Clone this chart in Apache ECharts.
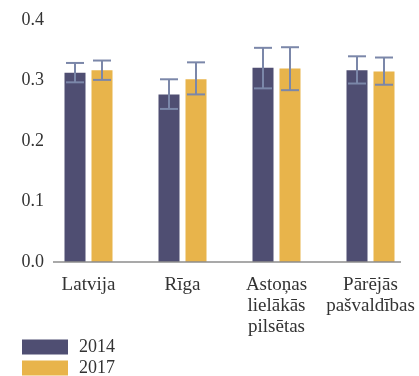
<!DOCTYPE html>
<html>
<head>
<meta charset="utf-8">
<script src="https://cdn.jsdelivr.net/npm/echarts@6/dist/echarts.min.js"></script>
<style>
  html, body { margin: 0; padding: 0; background: #fff; }
  #chart { width: 419px; height: 376px; }
</style>
</head>
<body>
<div id="chart"></div>
<script>
// Region labels (multi-line where the name wraps)
const categories = ['Latvija', 'Rīga', 'Astoņas\nlielākās\npilsētas', 'Pārējās\npašvaldības'];
const yearNames = ['2014', '2017'];

// Index values per region
const values2014 = [0.313, 0.277, 0.321, 0.317];
const values2017 = [0.317, 0.302, 0.320, 0.315];

// Confidence interval bounds
const low2014  = [0.297, 0.253, 0.287, 0.295];
const high2014 = [0.329, 0.302, 0.354, 0.340];
const low2017  = [0.301, 0.277, 0.284, 0.293];
const high2017 = [0.333, 0.330, 0.355, 0.338];

// Y axis ticks
const yTicks = [0.0, 0.1, 0.2, 0.3, 0.4];

const COLOR_2014 = '#4f4e72';
const COLOR_2017 = '#e8b44b';
const ERR_COLOR = '#7b87a9';
const FONT = 'Liberation Serif';
const BAR_W = 21;
const BAR_GAP = 6;
const CAP_W = 18;

function errorData(lo, hi) {
  return lo.map((l, i) => [i, l, hi[i]]);
}

function errorRenderer(side) {
  return function (params, api) {
    const shift = side * (BAR_W + BAR_GAP) / 2;
    const pLo = api.coord([api.value(0), api.value(1)]);
    const pHi = api.coord([api.value(0), api.value(2)]);
    const x = pLo[0] + shift;
    const style = { stroke: ERR_COLOR, lineWidth: 2 };
    return {
      type: 'group',
      children: [
        { type: 'line', shape: { x1: x, y1: pLo[1], x2: x, y2: pHi[1] }, style },
        { type: 'line', shape: { x1: x - CAP_W / 2, y1: pLo[1], x2: x + CAP_W / 2, y2: pLo[1] }, style },
        { type: 'line', shape: { x1: x - CAP_W / 2, y1: pHi[1], x2: x + CAP_W / 2, y2: pHi[1] }, style }
      ]
    };
  };
}

// One legend block per year, stacked vertically
function legendFor(name, top) {
  return {
    data: [name],
    left: 22,
    top: top,
    padding: 0,
    icon: 'rect',
    itemWidth: 46,
    itemHeight: 15,
    selectedMode: false,
    textStyle: { fontFamily: FONT, fontSize: 18, color: '#333', padding: [0, 0, 0, 6] }
  };
}

const chart = echarts.init(document.getElementById('chart'), null, { renderer: 'canvas' });

const option = {
  animation: false,
  backgroundColor: '#fff',
  textStyle: { fontFamily: FONT },
  grid: { left: 41.5, right: 1.5, top: 20, bottom: 114, containLabel: false },
  legend: [legendFor(yearNames[0], 338), legendFor(yearNames[1], 359)],
  xAxis: {
    type: 'category',
    data: categories,
    axisLine: { show: false },
    axisTick: { show: false },
    axisLabel: {
      fontFamily: FONT, fontSize: 19, color: '#333', lineHeight: 21, margin: 13, interval: 0
    }
  },
  yAxis: {
    type: 'value',
    min: yTicks[0],
    max: yTicks[yTicks.length - 1],
    interval: 0.1,
    offset: -11.5,
    axisLine: { show: false },
    axisTick: { show: false },
    splitLine: { show: false },
    axisLabel: {
      fontFamily: FONT, fontSize: 18, color: '#333', margin: 9,
      formatter: v => v.toFixed(1)
    }
  },
  series: [
    {
      name: yearNames[0], type: 'bar', data: values2014,
      barWidth: BAR_W, barGap: (BAR_GAP / BAR_W * 100) + '%',
      itemStyle: { color: COLOR_2014 }
    },
    {
      name: yearNames[1], type: 'bar', data: values2017,
      barWidth: BAR_W,
      itemStyle: { color: COLOR_2017 }
    },
    {
      name: 'ci2014', type: 'custom', z: 5,
      renderItem: errorRenderer(-1),
      encode: { x: 0, y: [1, 2] },
      data: errorData(low2014, high2014)
    },
    {
      name: 'ci2017', type: 'custom', z: 5,
      renderItem: errorRenderer(1),
      encode: { x: 0, y: [1, 2] },
      data: errorData(low2017, high2017)
    }
  ]
};

chart.setOption(option);

// Baseline along zero, shorter than the category bands
const y0 = chart.convertToPixel({ yAxisIndex: 0 }, 0);
chart.setOption({
  graphic: [{
    type: 'line', z: 10,
    shape: { x1: 53, y1: y0, x2: 401, y2: y0 },
    style: { stroke: '#8c8c8c', lineWidth: 1.5 }
  }]
});
</script>
</body>
</html>
